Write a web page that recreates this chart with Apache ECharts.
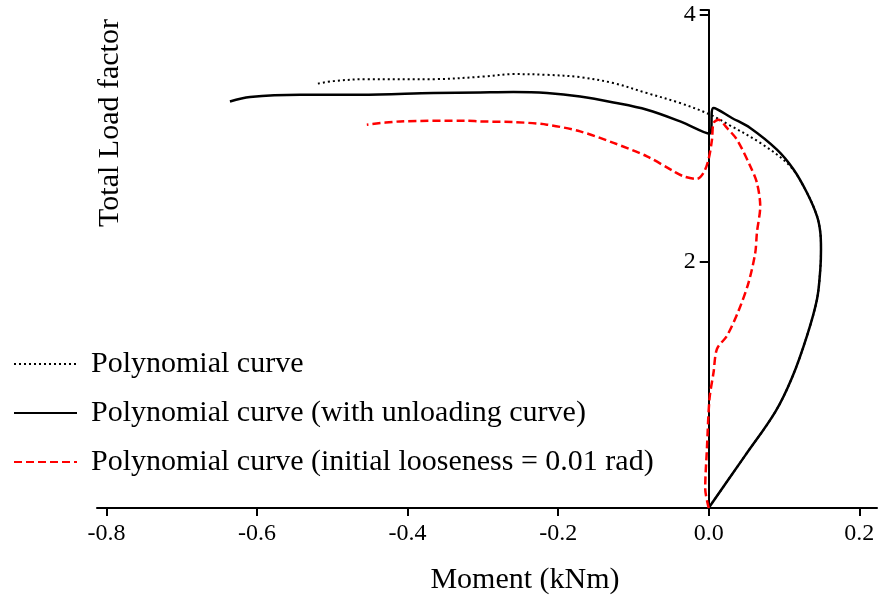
<!DOCTYPE html>
<html>
<head>
<meta charset="utf-8">
<script src="https://cdn.jsdelivr.net/npm/echarts@6/dist/echarts.min.js"></script>
<style>
  html, body { margin: 0; padding: 0; background: #fff; }
  #chart { width: 881px; height: 600px; }
</style>
</head>
<body>
<div id="chart"></div>
<script>
// Series names
const seriesNames = [
  'Polynomial curve',
  'Polynomial curve (with unloading curve)',
  'Polynomial curve (initial looseness = 0.01 rad)'
];

// Polynomial curve: moment (kNm) and total load factor
const momentPoly = [0, 0.001, 0.0485, 0.0884, 0.111, 0.1305, 0.1438, 0.1482, 0.1491, 0.1482, 0.1438, 0.1305,
  0.1083, 0.0684, 0.0263, 0.002, -0.0379, -0.0821, -0.1265, -0.1708, -0.215, -0.2594, -0.2993, -0.3657,
  -0.4542, -0.4986, -0.5207];
const loadPoly = [0, 0.01, 0.427, 0.780, 1.063, 1.397, 1.694, 1.937, 2.099, 2.236, 2.368, 2.557,
  2.772, 2.962, 3.110, 3.191, 3.285, 3.366, 3.447, 3.495, 3.514, 3.520, 3.500, 3.479,
  3.479, 3.463, 3.441];

// Polynomial curve with unloading branch
const momentUnload = [0, 0.001, 0.0485, 0.0884, 0.111, 0.1305, 0.1438, 0.1482, 0.1491, 0.1482, 0.1438, 0.1305,
  0.1127, 0.0906, 0.0551, 0.0308, 0.0064, 0.001, -0.0379, -0.0821, -0.1265, -0.1708, -0.215, -0.2594,
  -0.3037, -0.3657, -0.4631, -0.5429, -0.6093, -0.636];
const loadUnload = [0, 0.01, 0.427, 0.780, 1.063, 1.397, 1.694, 1.937, 2.099, 2.236, 2.368, 2.557,
  2.746, 2.907, 3.083, 3.164, 3.245, 3.037, 3.136, 3.231, 3.290, 3.338, 3.366, 3.374,
  3.371, 3.366, 3.352, 3.352, 3.334, 3.298];

// Polynomial curve with initial looseness of 0.01 rad
const momentLoose = [0, -0.0047, -0.0024, 0.001, 0.0064, 0.0109, 0.0242, 0.0396, 0.0529, 0.0618, 0.064, 0.0684,
  0.064, 0.0552, 0.0375, 0.0242, 0.013, 0.0064, 0.0043, -0.0003, -0.0069, -0.0157, -0.0335, -0.0468,
  -0.0821, -0.1265, -0.1708, -0.215, -0.2594, -0.3037, -0.3213, -0.41, -0.4542];
const loadLoose = [0, 0.158, 0.481, 0.886, 1.101, 1.290, 1.397, 1.600, 1.829, 2.072, 2.234, 2.449,
  2.638, 2.772, 2.988, 3.083, 3.150, 3.123, 2.988, 2.827, 2.719, 2.670, 2.691, 2.732,
  2.853, 2.962, 3.055, 3.110, 3.131, 3.136, 3.142, 3.136, 3.110];

// Axis ranges and tick values
const momentRange = [-0.8126, 0.2235];
const loadRange = [0, 4.04];
const momentTicks = [-0.8, -0.6, -0.4, -0.2, 0.0, 0.2];
const loadTicks = [0, 2, 4];

const zip = (xs, ys) => xs.map((x, i) => [x, ys[i]]);
const serif = "'Times New Roman', 'Liberation Serif', serif";

const W = 881;
const gridLeft = 97, gridRight = 4;
// Shift the vertical axis so it crosses the horizontal axis at zero moment
const plotWidth = W - gridLeft - gridRight;
const zeroShift = (0 - momentRange[0]) / (momentRange[1] - momentRange[0]) * plotWidth;

const chart = echarts.init(document.getElementById('chart'), null, { renderer: 'canvas' });

chart.setOption({
  backgroundColor: '#ffffff',
  animation: false,
  grid: { left: gridLeft, right: gridRight, top: 10, bottom: 90, containLabel: false },
  legend: {
    orient: 'vertical',
    left: 13,
    top: 349,
    padding: 0,
    itemWidth: 63,
    itemHeight: 14,
    itemGap: 19,
    data: seriesNames,
    itemStyle: { color: 'transparent', borderColor: 'transparent', borderWidth: 0 },
    textStyle: {
      fontFamily: serif,
      fontSize: 30,
      lineHeight: 30,
      color: '#000',
      padding: [0, 0, 0, 9]
    }
  },
  graphic: [{
    type: 'text',
    x: 110,
    y: 123,
    rotation: Math.PI / 2,
    style: {
      text: 'Total Load factor',
      font: '30px ' + serif,
      fill: '#000',
      align: 'center',
      verticalAlign: 'middle'
    }
  }],
  xAxis: {
    type: 'value',
    min: momentRange[0],
    max: momentRange[1],
    name: 'Moment (kNm)',
    nameLocation: 'middle',
    nameGap: 57,
    nameTextStyle: { fontFamily: serif, fontSize: 30, color: '#000', padding: [0, 0, 0, 76] },
    splitLine: { show: false },
    axisLine: { onZero: false, lineStyle: { color: '#000', width: 2 } },
    axisTick: { customValues: momentTicks, length: 8, lineStyle: { color: '#000', width: 2 } },
    axisLabel: {
      customValues: momentTicks,
      margin: 14,
      fontFamily: serif,
      fontSize: 24,
      color: '#000',
      formatter: v => v.toFixed(1)
    }
  },
  yAxis: {
    type: 'value',
    min: loadRange[0],
    max: loadRange[1],
    interval: 2,
    position: 'left',
    offset: -zeroShift,
    splitLine: { show: false },
    axisLine: { onZero: false, lineStyle: { color: '#000', width: 2 } },
    axisTick: { length: 9, lineStyle: { color: '#000', width: 2 } },
    axisLabel: {
      margin: 13,
      fontFamily: serif,
      fontSize: 24,
      color: '#000',
      formatter: v => (loadTicks.includes(v) && v !== 0 ? String(v) : '')
    }
  },
  series: [
    {
      name: seriesNames[0],
      type: 'line',
      data: zip(momentPoly, loadPoly),
      showSymbol: false,
      symbol: 'none',
      smooth: 0.35,
      lineStyle: { color: '#000', width: 2, type: [2, 3] },
      itemStyle: { color: '#000' },
      z: 2
    },
    {
      name: seriesNames[1],
      type: 'line',
      data: zip(momentUnload, loadUnload),
      showSymbol: false,
      symbol: 'none',
      smooth: 0.35,
      lineStyle: { color: '#000', width: 2.5, type: 'solid' },
      itemStyle: { color: '#000' },
      z: 3
    },
    {
      name: seriesNames[2],
      type: 'line',
      data: zip(momentLoose, loadLoose),
      showSymbol: false,
      symbol: 'none',
      smooth: 0.3,
      lineStyle: { color: '#ff0000', width: 2.5, type: [8, 4] },
      itemStyle: { color: '#ff0000' },
      z: 4
    }
  ]
});
</script>
</body>
</html>
